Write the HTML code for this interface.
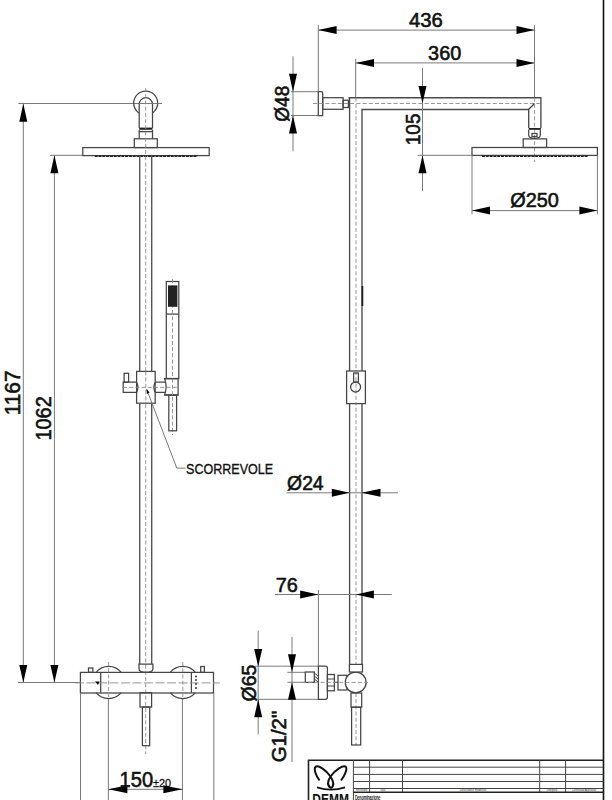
<!DOCTYPE html>
<html><head><meta charset="utf-8"><style>
html,body{margin:0;padding:0;background:#fff;overflow:hidden;}
svg{display:block;}
text{font-family:"Liberation Sans",sans-serif;}
.o{stroke:#454545;stroke-width:1.25;fill:none;}
.d{stroke:#7a7a7a;stroke-width:1;fill:none;}
.c{stroke:#8c8c8c;stroke-width:0.9;fill:none;stroke-dasharray:4 2.2;}
.a{fill:#000;stroke:none;}
.t{stroke:#444;stroke-width:1;fill:none;}
</style></head><body>
<svg width="612" height="800" viewBox="0 0 612 800">
<line class="d" x1="18.3" y1="103.5" x2="161.8" y2="103.5"/>
<line class="d" x1="23.3" y1="104" x2="23.3" y2="682.5"/>
<polygon class="a" points="23.30,103.70 19.30,121.70 27.30,121.70"/>
<polygon class="a" points="23.30,682.50 19.30,665.00 27.30,665.00"/>
<line class="d" x1="50" y1="155.3" x2="83" y2="155.3"/>
<line class="d" x1="54.4" y1="155.5" x2="54.4" y2="682.5"/>
<polygon class="a" points="54.40,155.30 50.40,173.30 58.40,173.30"/>
<polygon class="a" points="54.40,682.50 50.40,665.00 58.40,665.00"/>
<line class="d" x1="18" y1="682.5" x2="80.4" y2="682.5"/>
<text transform="translate(19.99,415.26) rotate(-90) scale(0.973,1)" font-size="21.41" fill="#111" stroke="#111" stroke-width="0.6">1167</text>
<text transform="translate(51.39,440.60) rotate(-90) scale(0.932,1)" font-size="21.41" fill="#111" stroke="#111" stroke-width="0.6">1062</text>
<circle class="o" cx="145.7" cy="103.1" r="12"/>
<path class="o" style="fill:#fff" d="M139.2,128 V104.3 A6.65,6.65 0 0 1 152.5,104.3 V128"/>
<line class="d" x1="139.2" y1="103.5" x2="161.8" y2="103.5"/>
<rect x="139.2" y="127.6" width="13.3" height="2.2" fill="#222"/>
<path class="o" d="M139.2,130 V138.8 M152.5,130 V138.8 M139.2,131.6 H152.5"/>
<rect class="o" x="134.3" y="138.8" width="23" height="8.8"/>
<rect class="o" x="82.8" y="147.6" width="126.4" height="8"/>
<line x1="94.7" y1="156.3" x2="197.5" y2="156.3" stroke="#222" stroke-width="1.5" stroke-dasharray="3 0.8"/>
<line class="c" x1="145.7" y1="88" x2="145.7" y2="754"/>
<line class="o" x1="139.7" y1="155.6" x2="139.7" y2="664" style="stroke:#555;stroke-width:1.4"/>
<line class="o" x1="151.7" y1="155.6" x2="151.7" y2="664" style="stroke:#555;stroke-width:1.4"/>
<path class="o" d="M139,664 H152.9 V669 Q152.9,672.4 146,672.4 Q139,672.4 139,669 Z"/>
<rect class="o" x="166.3" y="281.5" width="12.5" height="97"/>
<line class="o" x1="166.3" y1="314.1" x2="178.8" y2="314.1"/>
<line class="c" x1="172.5" y1="279" x2="172.5" y2="435"/>
<rect x="168" y="285.4" width="9.4" height="21.4" fill="#222"/>
<rect class="o" x="168.8" y="395" width="7.8" height="35.8"/>
<rect class="o" x="136.6" y="371.4" width="18.6" height="31.8" style="fill:#fff"/>
<line class="c" x1="145.8" y1="371.4" x2="145.8" y2="403.2"/>
<path class="o" d="M136.6,382.2 H123.2 V392.4 H136.6 M136.6,382.2 Q139.2,387.3 136.6,392.4 M155.2,382.2 H165.5 M155.2,392.4 H165.5 M155.2,382.2 Q152.6,387.3 155.2,392.4"/>
<rect class="o" x="124.1" y="373.3" width="4.5" height="8.9"/>
<path class="o" style="fill:#fff" d="M178.1,378.7 H164.6 Q167.6,386.9 164.6,395.1 H178.1 Z"/>
<line class="o" x1="164.6" y1="378.7" x2="178.1" y2="378.7" stroke="#222" stroke-width="1.8"/>
<line class="o" x1="164.6" y1="394.8" x2="178.1" y2="394.8" stroke="#222" stroke-width="1.6"/>
<line class="c" x1="172.5" y1="378.7" x2="172.5" y2="395"/>
<line class="c" x1="123" y1="387.4" x2="178" y2="387.4"/>
<polyline class="d" stroke="#555" points="146.6,389.1 176.8,468.1 185.3,468.1"/>
<polygon class="a" points="146.6,389.1 147,394 149.5,392.5"/>
<text transform="translate(186.11,473.98) scale(0.868,1)" font-size="14.44" fill="#111" stroke="#111" stroke-width="0.35">SCORREVOLE</text>
<path class="o" d="M96,672.3 A16.5,16.5 0 0 1 121.2,672.3 M96,692.7 A16.5,16.5 0 0 0 121.2,692.7"/>
<path class="o" d="M170.2,672.3 A16.5,16.5 0 0 1 195.4,672.3 M170.2,692.7 A16.5,16.5 0 0 0 195.4,692.7"/>
<rect class="o" x="80.4" y="672.4" width="133.1" height="20.6"/>
<line class="o" x1="100.7" y1="672.3" x2="100.7" y2="692.7"/>
<line class="o" x1="191.4" y1="672.3" x2="191.4" y2="692.7"/>
<rect class="o" x="88.5" y="668" width="4.4" height="4.3"/>
<rect class="o" x="200.7" y="666.5" width="3.7" height="5.8"/>
<line class="c" x1="75" y1="682.9" x2="220" y2="682.9" style="stroke-dasharray:9 2.5"/>
<line class="c" x1="108.6" y1="662" x2="108.6" y2="700"/>
<line class="c" x1="182.8" y1="662" x2="182.8" y2="700"/>
<polygon class="a" points="95,681.5 99.5,681.5 98,685"/>
<circle cx="196" cy="676.5" r="0.9" fill="#222"/>
<circle cx="196" cy="680" r="0.9" fill="#222"/>
<circle cx="196" cy="684" r="0.9" fill="#222"/>
<circle cx="196" cy="688" r="0.9" fill="#222"/>
<rect class="o" x="140" y="692.7" width="11.6" height="14.3"/>
<rect class="o" x="142.4" y="707" width="7.3" height="38.7"/>
<line class="d" x1="80.5" y1="693" x2="80.5" y2="800"/>
<line class="d" x1="108.4" y1="699" x2="108.4" y2="800"/>
<line class="d" x1="182.4" y1="699" x2="182.4" y2="800"/>
<line class="d" x1="213.8" y1="693" x2="213.8" y2="800"/>
<line class="d" x1="108.4" y1="789.3" x2="182.4" y2="789.3"/>
<polygon class="a" points="108.40,789.30 127.40,785.30 127.40,793.30"/>
<polygon class="a" points="182.40,789.30 163.40,785.30 163.40,793.30"/>
<text transform="translate(119.59,787.28) scale(0.934,1)" font-size="21.55" fill="#111" stroke="#111" stroke-width="0.6">150</text>
<text transform="translate(153.00,787.27) scale(1.054,1)" font-size="10.35" fill="#111" stroke="#111" stroke-width="0.25">±20</text>
<line x1="603.5" y1="0" x2="603.5" y2="800" stroke="#111" stroke-width="1.6"/>
<line class="d" x1="318.3" y1="24.8" x2="318.3" y2="91.7"/>
<line class="d" x1="534.5" y1="25" x2="534.5" y2="97.7"/>
<line class="d" x1="318.3" y1="30.1" x2="534.5" y2="30.1"/>
<polygon class="a" points="318.30,30.10 336.60,26.10 336.60,34.10"/>
<polygon class="a" points="534.50,30.10 516.50,26.10 516.50,34.10"/>
<text transform="translate(408.99,27.19) scale(0.981,1)" font-size="20.70" fill="#111" stroke="#111" stroke-width="0.6">436</text>
<line class="d" x1="355.7" y1="58.8" x2="355.7" y2="97.7"/>
<line class="d" x1="355.7" y1="62.9" x2="534.5" y2="62.9"/>
<polygon class="a" points="355.70,62.90 374.00,58.90 374.00,66.90"/>
<polygon class="a" points="534.50,62.90 516.50,58.90 516.50,66.90"/>
<text transform="translate(428.11,60.29) scale(0.966,1)" font-size="20.56" fill="#111" stroke="#111" stroke-width="0.6">360</text>
<line class="d" x1="293" y1="56.3" x2="293" y2="151.4"/>
<line class="d" x1="291" y1="91.7" x2="318.3" y2="91.7"/>
<line class="d" x1="291" y1="115.5" x2="318.3" y2="115.5"/>
<polygon class="a" points="293.00,91.70 289.00,73.70 297.00,73.70"/>
<polygon class="a" points="293.00,115.50 289.00,133.50 297.00,133.50"/>
<text transform="translate(289.09,121.77) rotate(-90) scale(0.921,1)" font-size="20.70" fill="#111" stroke="#111" stroke-width="0.6">Ø48</text>
<path class="o" d="M318.3,91.7 H321.2 Q322.7,91.7 322.7,93.2 V115.6 H318.3 Z"/>
<rect class="o" x="322.7" y="97.7" width="20.4" height="11.6"/>
<rect class="o" x="343.1" y="100.2" width="5.3" height="7.3"/>
<line class="c" x1="313" y1="103.5" x2="540" y2="103.5"/>
<path class="o" style="stroke:#4a4a4a;stroke-width:1.35" d="M348.4,97.7 H540.9 V128 M528.7,128 V109.5 H362 V664.4 M349.6,97.7 V664.4"/>
<line class="o" x1="528.5" y1="109.5" x2="534.6" y2="103.5"/>
<line class="c" x1="356" y1="97.7" x2="356" y2="745"/>
<line class="c" x1="534.6" y1="97.7" x2="534.6" y2="162"/>
<rect x="528.7" y="128" width="12.2" height="1.8" fill="#222"/>
<path class="o" d="M528.7,129.8 V135 Q528.7,138.3 534.6,138.3 Q540.3,138.3 540.3,135 V129.8"/>
<rect class="o" x="532" y="133.5" width="5" height="3"/>
<rect class="o" x="523.2" y="138.9" width="23.4" height="8.6"/>
<rect class="o" x="472" y="147.5" width="125.4" height="7.9"/>
<line x1="482" y1="156.2" x2="588" y2="156.2" stroke="#222" stroke-width="1.5" stroke-dasharray="3 0.8"/>
<line class="d" x1="422.5" y1="67.9" x2="422.5" y2="191.2"/>
<line class="d" x1="417.7" y1="155.3" x2="472" y2="155.3"/>
<polygon class="a" points="422.50,103.30 418.50,85.90 426.50,85.90"/>
<polygon class="a" points="422.50,155.30 418.50,173.30 426.50,173.30"/>
<text transform="translate(419.79,145.23) rotate(-90) scale(0.919,1)" font-size="20.70" fill="#111" stroke="#111" stroke-width="0.6">105</text>
<line class="d" x1="472" y1="155.4" x2="472" y2="214.3"/>
<line class="d" x1="597.4" y1="155.4" x2="597.4" y2="214.3"/>
<line class="d" x1="472" y1="210.6" x2="597.4" y2="210.6"/>
<polygon class="a" points="472.00,210.60 490.00,206.60 490.00,214.60"/>
<polygon class="a" points="597.40,210.60 579.40,206.60 579.40,214.60"/>
<text transform="translate(510.20,207.09) scale(0.955,1)" font-size="20.85" fill="#111" stroke="#111" stroke-width="0.6">Ø250</text>
<line x1="362.4" y1="286" x2="362.4" y2="306" stroke="#222" stroke-width="1.8"/>
<rect class="o" x="346.6" y="371" width="18.8" height="32.6" style="fill:#fff"/>
<line class="c" x1="356" y1="371" x2="356" y2="403.6"/>
<circle class="o" cx="355.6" cy="387" r="5"/>
<rect class="o" x="353.6" y="373" width="4.8" height="9"/>
<line class="d" x1="286.5" y1="492.8" x2="398" y2="492.8"/>
<polygon class="a" points="349.60,492.80 331.80,488.80 331.80,496.80"/>
<polygon class="a" points="361.50,492.80 380.50,488.80 380.50,496.80"/>
<text transform="translate(287.12,489.50) scale(0.958,1)" font-size="20.14" fill="#111" stroke="#111" stroke-width="0.6">Ø24</text>
<line class="d" x1="274.9" y1="594.5" x2="391.8" y2="594.5"/>
<line class="d" x1="318.4" y1="590" x2="318.4" y2="666"/>
<polygon class="a" points="318.40,594.50 300.20,590.50 300.20,598.50"/>
<polygon class="a" points="355.90,594.50 373.90,590.50 373.90,598.50"/>
<text transform="translate(275.70,591.79) scale(0.955,1)" font-size="20.85" fill="#111" stroke="#111" stroke-width="0.6">76</text>
<line class="d" x1="258.2" y1="630.6" x2="258.2" y2="734.4"/>
<line class="d" x1="255" y1="666.2" x2="318.4" y2="666.2"/>
<line class="d" x1="255" y1="699.3" x2="318.4" y2="699.3"/>
<polygon class="a" points="258.20,666.40 254.20,648.90 262.20,648.90"/>
<polygon class="a" points="258.20,699.30 254.20,717.30 262.20,717.30"/>
<text transform="translate(255.90,701.38) rotate(-90) scale(0.981,1)" font-size="19.72" fill="#111" stroke="#111" stroke-width="0.6">Ø65</text>
<line class="d" x1="292" y1="637" x2="292" y2="762"/>
<line class="d" x1="287.4" y1="672.3" x2="305.3" y2="672.3"/>
<line class="d" x1="287.4" y1="682.3" x2="305.3" y2="682.3"/>
<polygon class="a" points="292.00,672.30 288.00,654.30 296.00,654.30"/>
<polygon class="a" points="292.00,682.30 288.00,699.80 296.00,699.80"/>
<text transform="translate(285.69,762.32) rotate(-90) scale(0.987,1)" font-size="20.68" fill="#111" stroke="#111" stroke-width="0.6">G1/2&quot;</text>
<path class="o" d="M318.4,666 H325.4 Q327.4,666 327.4,668 V697.3 Q327.4,699.3 325.4,699.3 H318.4 Z"/>
<rect class="o" x="305.3" y="672" width="9" height="10.4"/>
<path class="t" d="M314.3,673 L318,676 M314.3,676 L318,679 M314.3,679 L318,682"/>
<rect class="o" x="327.4" y="674.5" width="7" height="16.3"/>
<line class="t" x1="327.4" y1="679" x2="334.4" y2="679"/>
<line class="t" x1="327.4" y1="686" x2="334.4" y2="686"/>
<rect class="o" x="338" y="675.3" width="9" height="14.7"/>
<line class="o" x1="334.4" y1="682.4" x2="338" y2="682.4"/>
<circle class="o" cx="355.7" cy="682.4" r="10.4" style="fill:#fff"/>
<rect class="o" x="349.4" y="664.4" width="13.1" height="7.6" style="fill:#fff"/>
<rect class="o" x="351" y="693" width="10.7" height="14.2"/>
<rect class="o" x="351.6" y="707.2" width="9.1" height="37.8"/>
<line class="c" x1="302" y1="682.4" x2="370" y2="682.4"/>
<path d="M308.5,800 V760.2 H603.5" stroke="#222" stroke-width="1.6" fill="none"/>
<line class="t" x1="353.4" y1="760.2" x2="353.4" y2="800"/>
<line class="t" x1="369.6" y1="760.2" x2="369.6" y2="792.3"/>
<line class="t" x1="402.5" y1="760.2" x2="402.5" y2="792.3"/>
<line class="t" x1="539.7" y1="760.2" x2="539.7" y2="792.3"/>
<line class="t" x1="565.6" y1="760.2" x2="565.6" y2="792.3"/>
<line class="t" x1="353.4" y1="767.2" x2="603.5" y2="767.2"/>
<line class="t" x1="353.4" y1="774.4" x2="603.5" y2="774.4"/>
<line class="t" x1="353.4" y1="781.5" x2="603.5" y2="781.5"/>
<line class="t" x1="353.4" y1="788.5" x2="603.5" y2="788.5"/>
<line x1="353.4" y1="792.3" x2="603.5" y2="792.3" stroke="#222" stroke-width="1.4"/>
<text x="355.9" y="791.3" font-size="3.8" fill="#333" textLength="11.7" lengthAdjust="spacingAndGlyphs">Revisione</text>
<text x="380.4" y="791.3" font-size="3.8" fill="#333" textLength="4.9" lengthAdjust="spacingAndGlyphs">Data</text>
<text x="459.7" y="791.3" font-size="3.8" fill="#333" textLength="26.6" lengthAdjust="spacingAndGlyphs">Descrizione modifiche</text>
<text x="546.7" y="791.3" font-size="3.8" fill="#333" textLength="10.7" lengthAdjust="spacingAndGlyphs">Disegnato</text>
<text x="572" y="791.3" font-size="3.8" fill="#333" textLength="24" lengthAdjust="spacingAndGlyphs">Controllato/Approvato</text>
<text x="354.9" y="799.6" font-size="6.5" fill="#111" stroke="#111" stroke-width="0.2" textLength="25.5" lengthAdjust="spacingAndGlyphs">Denominazione</text>
<path d="M319.5,780.5 C316,776 313.5,769 315.5,767 C318,764.5 326,770 330.5,776.5 C333.5,781 334.5,785.5 331,788.3 M341,780.5 C344.5,776 347.5,769 346,767 C343.5,764.5 335,770 330.5,776.5 C327.5,781 327,785.5 331,788.3" stroke="#111" stroke-width="2" fill="none"/>
<path d="M317,787.3 Q331,791.8 345,787.3" stroke="#111" stroke-width="1.8" fill="none"/>
<text x="312.3" y="803.8" font-size="14.5" font-weight="bold" textLength="36.7" lengthAdjust="spacingAndGlyphs" fill="#111">DEMM</text>
</svg>
</body></html>
